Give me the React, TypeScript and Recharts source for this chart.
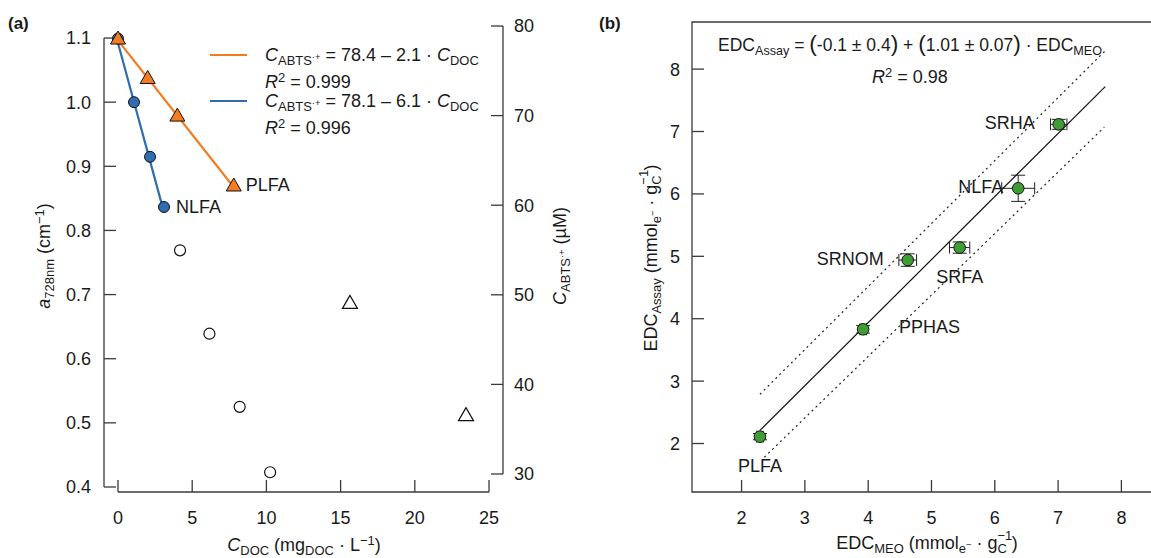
import React from 'react';
import { ComposedChart, Scatter, XAxis, YAxis, ReferenceLine, ReferenceArea, ErrorBar } from 'recharts';

// ---------- Panel (a) data ----------
const plfaCdoc = [0, 2.0, 4.0, 7.8];
const plfaAbts = [78.6, 74.2, 70.0, 62.2];
const nlfaCdoc = [0, 1.08, 2.16, 3.1];
const nlfaAbts = [78.6, 71.5, 65.4, 59.8];
const plfaFitCdoc = [0, 7.8];
const plfaFitAbts = [78.4, 62.0];
const nlfaFitCdoc = [0, 3.1];
const nlfaFitAbts = [78.1, 59.2];
const nlfaA728Cdoc = [4.18, 6.16, 8.2, 10.25];
const nlfaA728 = [0.769, 0.639, 0.525, 0.423];
const plfaA728Cdoc = [15.63, 23.45];
const plfaA728 = [0.687, 0.512];
const aXTicks = [0, 5, 10, 15, 20, 25];
const aLeftTicks = [0.4, 0.5, 0.6, 0.7, 0.8, 0.9, 1.0, 1.1];
const aRightTicks = [30, 40, 50, 60, 70, 80];

// ---------- Panel (b) data ----------
const samples = ['PLFA', 'PPHAS', 'SRNOM', 'SRFA', 'NLFA', 'SRHA'];
const edcMeo = [2.29, 3.92, 4.625, 5.445, 6.37, 7.01];
const edcAssay = [2.11, 3.83, 4.94, 5.14, 6.09, 7.115];
const edcMeoErr = [0.05, 0.05, 0.14, 0.16, 0.26, 0.13];
const edcAssayErr = [0.05, 0.06, 0.1, 0.09, 0.21, 0.08];
const fitMeo = [2.29, 7.745];
const fitAssay = [2.21, 7.72];
const upperMeo = [2.29, 7.76];
const upperAssay = [2.79, 8.31];
const lowerMeo = [2.36, 7.73];
const lowerAssay = [1.78, 7.07];
const bTicks = [2, 3, 4, 5, 6, 7, 8];

// ---------- styling ----------
const FONT = '"Liberation Sans", Arial, Helvetica, sans-serif';
const AXIS = '#3a3a3a';
const TEXT = '#1a1a1a';
const ORANGE = '#f47c20';
const BLUE = '#2f6db0';
const GREEN = '#3e9e35';

const zip = (xs: number[], ys: number[]) => xs.map((x, i) => ({ x, y: ys[i] }));

const aX: [number, number] = [-0.943, 25.943];
const aLeft: [number, number] = [0.3922, 1.1281];
const aRight: [number, number] = [27.99, 80.67];
const bX: [number, number] = [1.217, 8.61];
const bY: [number, number] = [1.223, 8.755];

const aLabelPlacement: Record<string, { dx: number; dy: number; anchor: string }> = {
  PLFA: { dx: 12, dy: 0, anchor: 'start' },
  NLFA: { dx: 12, dy: 0, anchor: 'start' },
};
const bLabelPlacement: Record<string, { dx: number; dy: number; anchor: string }> = {
  PLFA: { dx: 0, dy: 29, anchor: 'middle' },
  PPHAS: { dx: 36, dy: -2, anchor: 'start' },
  SRNOM: { dx: -24, dy: -1, anchor: 'end' },
  SRFA: { dx: 0, dy: 29, anchor: 'middle' },
  NLFA: { dx: -15, dy: -1, anchor: 'end' },
  SRHA: { dx: -24, dy: -1, anchor: 'end' },
};

const tri = (cx: number, cy: number) =>
  `${cx},${cy - 7.5} ${cx - 7.5},${cy + 5.5} ${cx + 7.5},${cy + 5.5}`;

const ptLabel = (cx: number, cy: number, name: string | undefined, place: any) =>
  name && place ? (
    <text x={cx + place.dx} y={cy + place.dy} textAnchor={place.anchor} dominantBaseline="central"
      fontSize={18} fontFamily={FONT} fill={TEXT}>{name}</text>
  ) : null;

const OrangeTri = (p: any) => (
  <g>
    <polygon points={tri(p.cx, p.cy)} fill={ORANGE} stroke="#111" strokeWidth={1} />
    {ptLabel(p.cx, p.cy, p.payload?.label, aLabelPlacement[p.payload?.label])}
  </g>
);
const BlueCircle = (p: any) => (
  <g>
    <circle cx={p.cx} cy={p.cy} r={5.5} fill={BLUE} stroke="#111" strokeWidth={1} />
    {ptLabel(p.cx, p.cy, p.payload?.label, aLabelPlacement[p.payload?.label])}
  </g>
);
const OpenCircle = (p: any) => <circle cx={p.cx} cy={p.cy} r={5.5} fill="#fff" stroke="#111" strokeWidth={1.2} />;
const OpenTri = (p: any) => <polygon points={tri(p.cx, p.cy)} fill="#fff" stroke="#111" strokeWidth={1.2} />;
const NoDot = () => <g />;
const GreenDot = (p: any) => (
  <g>
    <circle cx={p.cx} cy={p.cy} r={5.8} fill={GREEN} stroke="#111" strokeWidth={1} />
    {ptLabel(p.cx, p.cy, p.payload?.name, bLabelPlacement[p.payload?.name])}
  </g>
);

const plfaData = zip(plfaCdoc, plfaAbts).map((d, i, a) => ({ ...d, label: i === a.length - 1 ? 'PLFA' : undefined }));
const nlfaData = zip(nlfaCdoc, nlfaAbts).map((d, i, a) => ({ ...d, label: i === a.length - 1 ? 'NLFA' : undefined }));
const bData = samples.map((name, i) => ({ name, x: edcMeo[i], y: edcAssay[i], ex: edcMeoErr[i], ey: edcAssayErr[i] }));

const tickStyle = { fontSize: 18, fill: TEXT, fontFamily: FONT };

// ---------- text helpers ----------
const Sub = ({ children }: any) => (
  <span style={{ fontSize: '0.72em', position: 'relative', top: '0.32em' }}>{children}</span>
);
const Sup = ({ children }: any) => (
  <span style={{ fontSize: '0.72em', position: 'relative', top: '-0.5em' }}>{children}</span>
);
const SubSup = ({ sub, sup }: any) => (
  <span style={{ display: 'inline-block', position: 'relative', width: '1.1em', height: '1em', fontSize: '0.72em' }}>
    <span style={{ position: 'absolute', left: 0, top: '-0.45em' }}>{sup}</span>
    <span style={{ position: 'absolute', left: 0, top: '0.55em' }}>{sub}</span>
  </span>
);
const T = ({ x, y, size = 18, anchor = 'left', rotate = false, bold = false, children }: any) => {
  const tx = anchor === 'left' ? '0' : anchor === 'center' ? '-50%' : '-100%';
  return (
    <div style={{
      position: 'absolute', left: x, top: y, fontFamily: FONT, fontSize: size, color: TEXT,
      whiteSpace: 'nowrap', lineHeight: 1, fontWeight: bold ? 700 : 400,
      transform: rotate ? 'translate(-50%,-50%) rotate(-90deg)' : `translate(${tx},-50%)`,
    }}>{children}</div>
  );
};

const PanelA = () => (
  <ComposedChart width={600} height={558} margin={{ top: 20, right: 37, bottom: 26, left: 44 }}>
    <XAxis type="number" dataKey="x" domain={aX} ticks={aXTicks} interval={0} allowDataOverflow
      axisLine={false} tickSize={-12} tickMargin={31} height={40} tick={tickStyle} tickLine={{ stroke: AXIS, strokeWidth: 1.3 }} />
    <YAxis yAxisId="left" type="number" dataKey="y" domain={aLeft} ticks={aLeftTicks} interval={0} allowDataOverflow
      axisLine={false} tickSize={-12} tickMargin={25} width={60} tick={tickStyle}
      tickFormatter={(v: number) => v.toFixed(1)} tickLine={{ stroke: AXIS, strokeWidth: 1.3 }} />
    <YAxis yAxisId="right" orientation="right" type="number" dataKey="y" domain={aRight} ticks={aRightTicks} interval={0} allowDataOverflow
      axisLine={false} tickSize={-12} tickMargin={23} width={60} tick={tickStyle} tickLine={{ stroke: AXIS, strokeWidth: 1.3 }} />
    <ReferenceLine yAxisId="left" segment={[{ x: aX[0], y: 0.4 }, { x: aX[0], y: 1.1 }]} stroke={AXIS} strokeWidth={1.3} />
    <ReferenceLine yAxisId="left" segment={[{ x: 0, y: aLeft[0] }, { x: 25, y: aLeft[0] }]} stroke={AXIS} strokeWidth={1.3} />
    <ReferenceLine yAxisId="right" segment={[{ x: aX[1], y: 30 }, { x: aX[1], y: 80 }]} stroke={AXIS} strokeWidth={1.3} />
    <Scatter yAxisId="left" data={zip(nlfaA728Cdoc, nlfaA728)} shape={OpenCircle} isAnimationActive={false} />
    <Scatter yAxisId="left" data={zip(plfaA728Cdoc, plfaA728)} shape={OpenTri} isAnimationActive={false} />
    <Scatter yAxisId="right" data={zip(nlfaFitCdoc, nlfaFitAbts)} shape={NoDot} fill={BLUE}
      line={{ stroke: BLUE, strokeWidth: 2.2 }} isAnimationActive={false} />
    <Scatter yAxisId="right" data={zip(plfaFitCdoc, plfaFitAbts)} shape={NoDot} fill={ORANGE}
      line={{ stroke: ORANGE, strokeWidth: 2.2 }} isAnimationActive={false} />
    <Scatter yAxisId="right" data={nlfaData} shape={BlueCircle} isAnimationActive={false} />
    <Scatter yAxisId="right" data={plfaData} shape={OrangeTri} isAnimationActive={false} />
  </ComposedChart>
);

const PanelB = () => (
  <ComposedChart width={560} height={558} margin={{ top: 22, right: 0, bottom: 26, left: 42 }}>
    <XAxis type="number" dataKey="x" domain={bX} ticks={bTicks} interval={0} allowDataOverflow
      axisLine={false} tickSize={-12} tickMargin={31} height={40} tick={tickStyle} tickLine={{ stroke: AXIS, strokeWidth: 1.3 }} />
    <YAxis type="number" dataKey="y" domain={bY} ticks={bTicks} interval={0} allowDataOverflow
      axisLine={false} tickSize={-12} tickMargin={24} width={50} tick={tickStyle} tickLine={{ stroke: AXIS, strokeWidth: 1.3 }} />
    <ReferenceArea x1={bX[0]} x2={bX[1]} y1={bY[0]} y2={bY[1]} fill="none" fillOpacity={0} stroke={AXIS} strokeWidth={1.3} />
    <Scatter data={zip(upperMeo, upperAssay)} shape={NoDot} fill="#222"
      line={{ stroke: '#222', strokeWidth: 1.2, strokeDasharray: '2 3.5' }} isAnimationActive={false} />
    <Scatter data={zip(lowerMeo, lowerAssay)} shape={NoDot} fill="#222"
      line={{ stroke: '#222', strokeWidth: 1.2, strokeDasharray: '2 3.5' }} isAnimationActive={false} />
    <Scatter data={zip(fitMeo, fitAssay)} shape={NoDot} fill="#111"
      line={{ stroke: '#111', strokeWidth: 1.2 }} isAnimationActive={false} />
    <Scatter data={bData} shape={GreenDot} isAnimationActive={false}>
      <ErrorBar dataKey="ex" direction="x" width={6} stroke="#222" strokeWidth={1} />
      <ErrorBar dataKey="ey" direction="y" width={7} stroke="#222" strokeWidth={1} />
    </Scatter>
  </ComposedChart>
);

const LegendLine = ({ x, y, color }: any) => (
  <div style={{ position: 'absolute', left: x, top: y - 1, width: 37, height: 2.2, background: color }} />
);

export default function App() {
  return (
    <div style={{ position: 'fixed', left: 0, top: 0, width: 1151, height: 558, overflow: 'hidden', background: '#fff' }}>
      <div style={{ position: 'absolute', left: 0, top: 0 }}><PanelA /></div>
      <div style={{ position: 'absolute', left: 600, top: 0 }}><PanelB /></div>

      <T x={8} y={23} size={17} bold>(a)</T>
      <T x={599} y={23} size={17} bold>(b)</T>

      {/* Panel (a) legend */}
      <LegendLine x={210} y={55} color={ORANGE} />
      <T x={265} y={55}><i>C</i><Sub>ABTS<Sup>·+</Sup></Sub> = 78.4 – 2.1 · <i>C</i><Sub>DOC</Sub></T>
      <T x={265} y={82}><i>R</i><Sup>2</Sup> = 0.999</T>
      <LegendLine x={210} y={101} color={BLUE} />
      <T x={265} y={101}><i>C</i><Sub>ABTS<Sup>·+</Sup></Sub> = 78.1 – 6.1 · <i>C</i><Sub>DOC</Sub></T>
      <T x={265} y={128}><i>R</i><Sup>2</Sup> = 0.996</T>

      {/* Panel (a) axis titles */}
      <T x={304} y={545} anchor="center"><i>C</i><Sub>DOC</Sub> (mg<Sub>DOC</Sub> · L<Sup>−1</Sup>)</T>
      <T x={44} y={256} rotate><i>a</i><Sub>728nm</Sub> (cm<Sup>−1</Sup>)</T>
      <T x={560} y={256} rotate><i>C</i><Sub>ABTS<Sup>·+</Sup></Sub> (µM)</T>

      {/* Panel (b) annotation */}
      <T x={910} y={43} anchor="center" size={17.5}>
        EDC<Sub>Assay</Sub> = <span style={{ fontSize: '1.3em' }}>(</span>-0.1 ± 0.4<span style={{ fontSize: '1.3em' }}>)</span> + <span style={{ fontSize: '1.3em' }}>(</span>1.01 ± 0.07<span style={{ fontSize: '1.3em' }}>)</span> · EDC<Sub>MEO</Sub>
      </T>
      <T x={910} y={77} anchor="center"><i>R</i><Sup>2</Sup> = 0.98</T>

      {/* Panel (b) axis titles */}
      <T x={927} y={543} anchor="center">EDC<Sub>MEO</Sub> (mmol<Sub>e<Sup>−</Sup></Sub> · g<SubSup sub="C" sup="−1" />)</T>
      <T x={651} y={258} rotate>EDC<Sub>Assay</Sub> (mmol<Sub>e<Sup>−</Sup></Sub> · g<SubSup sub="C" sup="−1" />)</T>
    </div>
  );
}
